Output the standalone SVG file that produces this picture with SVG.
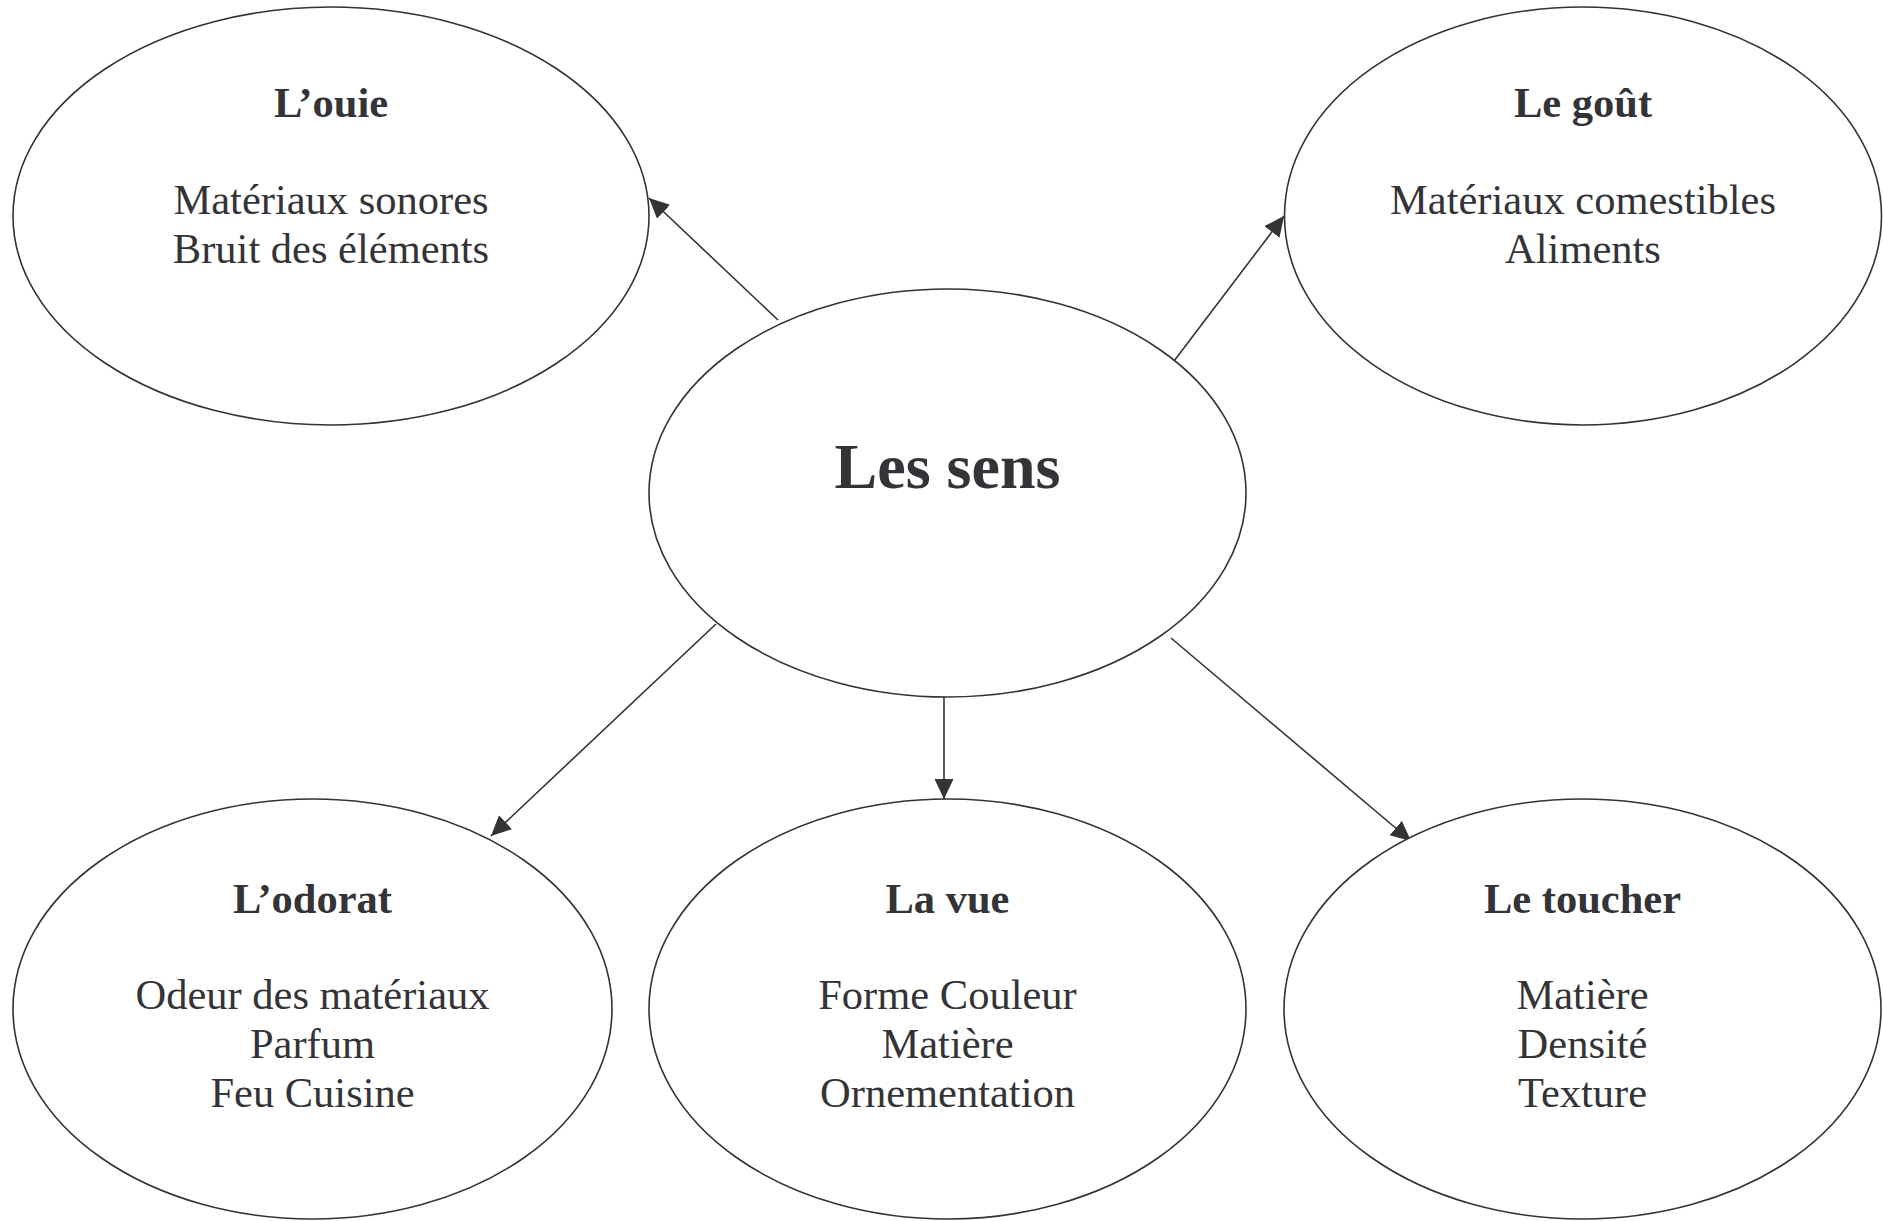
<svg xmlns="http://www.w3.org/2000/svg" width="1883" height="1221" viewBox="0 0 1883 1221">
  <style>
    .node ellipse { fill: #ffffff; stroke: #333336; stroke-width: 1.6; }
    .title { font-family: "Liberation Serif", "Times New Roman", serif; font-weight: bold; font-size: 42.5px; fill: #333338; text-anchor: middle; }
    .item { font-family: "Liberation Serif", "Times New Roman", serif; font-size: 42.5px; fill: #333338; text-anchor: middle; }
    .main { font-family: "Liberation Serif", "Times New Roman", serif; font-weight: bold; font-size: 64px; fill: #333338; text-anchor: middle; }
    .link { stroke: #333336; stroke-width: 1.6; fill: none; marker-end: url(#arrow); }
  </style>
  <defs>
    <marker id="arrow" markerUnits="userSpaceOnUse" markerWidth="20" markerHeight="20" refX="20" refY="9.5" orient="auto">
      <path d="M0,0 L20,9.5 L0,19 Z" fill="#333336"/>
    </marker>
  </defs>
  <rect width="1883" height="1221" fill="#ffffff"/>

  <!-- connectors from the central node -->
  <g id="connectors">
    <line class="link" x1="778" y1="320" x2="649" y2="198"/>
    <line class="link" x1="1171" y1="365" x2="1284" y2="216"/>
    <line class="link" x1="716" y1="624" x2="491" y2="836"/>
    <line class="link" x1="944" y1="697" x2="944" y2="799"/>
    <line class="link" x1="1171" y1="638" x2="1411" y2="841"/>
  </g>

  <g id="node-ouie" class="node">
    <ellipse cx="331" cy="216" rx="318" ry="209"/>
    <text class="title" x="331" y="117">L’ouie</text>
    <text class="item" x="331" y="214">Matériaux sonores</text>
    <text class="item" x="331" y="263">Bruit des éléments</text>
  </g>

  <g id="node-gout" class="node">
    <ellipse cx="1583" cy="216" rx="298.5" ry="209"/>
    <text class="title" x="1583" y="117">Le goût</text>
    <text class="item" x="1583" y="214">Matériaux comestibles</text>
    <text class="item" x="1583" y="263">Aliments</text>
  </g>

  <g id="node-sens" class="node">
    <ellipse cx="947.5" cy="493" rx="298.5" ry="204"/>
    <text class="main" x="947.5" y="488">Les sens</text>
  </g>

  <g id="node-odorat" class="node">
    <ellipse cx="312.5" cy="1009" rx="299.5" ry="210"/>
    <text class="title" x="312.5" y="913">L’odorat</text>
    <text class="item" x="312.5" y="1009">Odeur des matériaux</text>
    <text class="item" x="312.5" y="1058">Parfum</text>
    <text class="item" x="312.5" y="1107">Feu Cuisine</text>
  </g>

  <g id="node-vue" class="node">
    <ellipse cx="947.5" cy="1009" rx="298.5" ry="210"/>
    <text class="title" x="947.5" y="913">La vue</text>
    <text class="item" x="947.5" y="1009">Forme Couleur</text>
    <text class="item" x="947.5" y="1058">Matière</text>
    <text class="item" x="947.5" y="1107">Ornementation</text>
  </g>

  <g id="node-toucher" class="node">
    <ellipse cx="1582.5" cy="1009" rx="298.5" ry="210"/>
    <text class="title" x="1582.5" y="913">Le toucher</text>
    <text class="item" x="1582.5" y="1009">Matière</text>
    <text class="item" x="1582.5" y="1058">Densité</text>
    <text class="item" x="1582.5" y="1107">Texture</text>
  </g>
</svg>
